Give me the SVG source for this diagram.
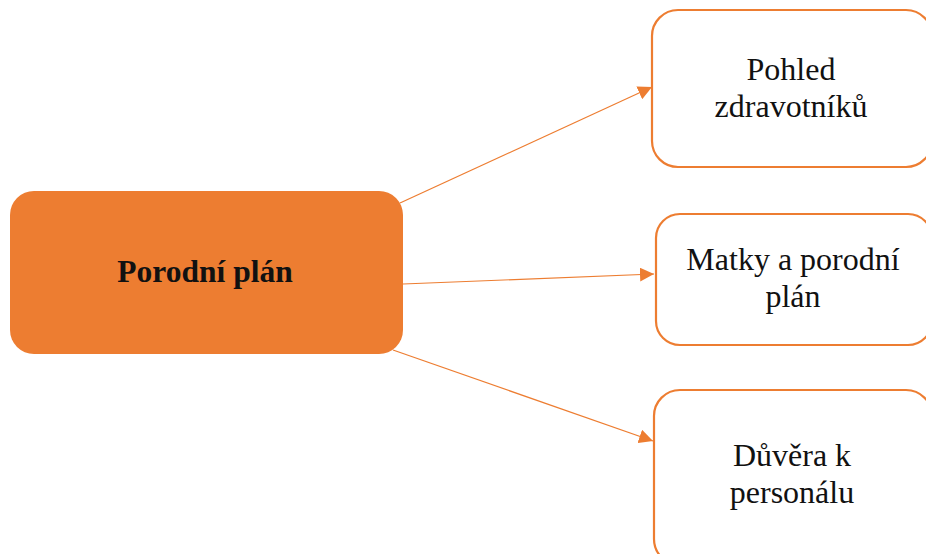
<svg xmlns="http://www.w3.org/2000/svg" width="926" height="554" viewBox="0 0 926 554">
<style>
.box{fill:#fff;stroke:#ED7D31;stroke-width:2.2}
.main{fill:#ED7D31}
.t{font-family:"Liberation Serif","Times New Roman",serif;font-size:32px;fill:#111;text-anchor:middle}
.b{font-weight:bold;font-size:31.5px}
.c{stroke:#ED7D31;stroke-width:1.2;fill:none}
</style>
<defs>
<marker id="ah" viewBox="0 0 10 10" refX="10" refY="5" markerWidth="14" markerHeight="14" markerUnits="userSpaceOnUse" orient="auto">
<path d="M0,0 L10,5 L0,10 z" fill="#ED7D31"/>
</marker>
</defs>
<g id="connectors">
<line class="c" x1="400" y1="203" x2="652" y2="87" marker-end="url(#ah)"/>
<line class="c" x1="403" y1="284" x2="654" y2="274" marker-end="url(#ah)"/>
<line class="c" x1="393" y1="350" x2="653" y2="441" marker-end="url(#ah)"/>
</g>
<g id="main">
<rect class="main" x="10" y="191" width="393" height="163" rx="24"/>
<text class="t b" x="205" y="282">Porodní plán</text>
</g>
<g id="n1">
<rect class="box" x="652" y="10" width="280" height="157" rx="26"/>
<text class="t" x="791" y="80">Pohled</text>
<text class="t" x="791" y="117">zdravotníků</text>
</g>
<g id="n2">
<rect class="box" x="656" y="214" width="276" height="131" rx="24"/>
<text class="t" x="793" y="270">Matky a porodní</text>
<text class="t" x="793" y="307">plán</text>
</g>
<g id="n3">
<rect class="box" x="654" y="390" width="278" height="175" rx="26"/>
<text class="t" x="792" y="466">Důvěra k</text>
<text class="t" x="792" y="503">personálu</text>
</g>
</svg>
